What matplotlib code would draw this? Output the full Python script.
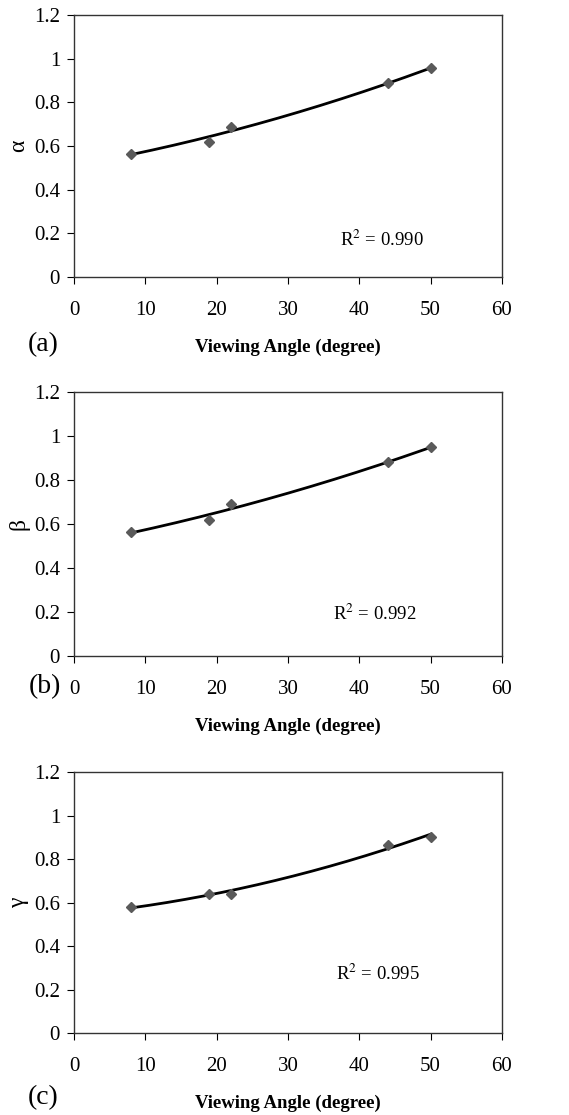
import numpy as np
import matplotlib
matplotlib.use("Agg")
from matplotlib import pyplot as plt

plt.rcParams['font.family'] = ['Liberation Serif', 'DejaVu Serif']
plt.rcParams['mathtext.fontset'] = 'stix'

angle = [8, 19, 22, 44, 50]
alpha_vals = [0.564, 0.620, 0.688, 0.887, 0.956]
beta_vals = [0.563, 0.620, 0.689, 0.881, 0.948]
gamma_vals = [0.578, 0.641, 0.641, 0.864, 0.903]

ylabels = ['α', 'β', 'γ']
panel_tags = ['(a)', '(b)', '(c)']
r2_texts = ['0.990', '0.992', '0.995']
r2_pos = [(43.2, 0.17), (42.2, 0.19), (42.6, 0.27)]

# axes boxes in figure fraction: left, bottom, width, height
boxes = [
    [0.130, 0.7516, 0.752, 0.235],
    [0.130, 0.4117, 0.752, 0.2367],
    [0.130, 0.0735, 0.752, 0.2341],
]
tag_xy = [(0.076, 0.6906), (0.079, 0.3839), (0.076, 0.0152)]


def main():
    fig = plt.figure(figsize=(5.69, 11.15), dpi=100)
    series = [alpha_vals, beta_vals, gamma_vals]
    for i in range(3):
        ax = fig.add_axes(boxes[i])
        y = series[i]
        coef = np.polyfit(angle, y, 2)
        xs = np.linspace(angle[0], angle[-1], 200)
        ax.plot(xs, np.polyval(coef, xs), color='black', lw=2, zorder=2)
        ax.plot(angle, y, 'D', color='#5a5a5a', ms=5, zorder=3)
        ax.set_xlim(0, 60)
        ax.set_ylim(0, 1.2)
        ax.set_xticks(range(0, 61, 10))
        ax.set_yticks([0, 0.2, 0.4, 0.6, 0.8, 1.0, 1.2])
        ax.set_yticklabels(['0', '0.2', '0.4', '0.6', '0.8', '1', '1.2'])
        ax.tick_params(axis='x', direction='out', length=5, pad=12, labelsize=15)
        ax.tick_params(axis='y', direction='out', length=5, pad=5, labelsize=15)
        for s in ax.spines.values():
            s.set_linewidth(1.0)
            s.set_color('#333333')
        ax.set_xlabel('Viewing Angle (degree)', fontsize=13.5, fontweight='bold', labelpad=14)
        ax.set_ylabel(ylabels[i], fontsize=17)
        ax.yaxis.set_label_coords(-0.104, 0.5)
        ax.text(r2_pos[i][0], r2_pos[i][1], r'R$^2$ = ' + r2_texts[i],
                fontsize=13.5, ha='center', va='center')
        fig.text(tag_xy[i][0], tag_xy[i][1], panel_tags[i], fontsize=20,
                 ha='center', va='center')
    fig.savefig('out.png', dpi=100)


if __name__ == '__main__':
    main()
